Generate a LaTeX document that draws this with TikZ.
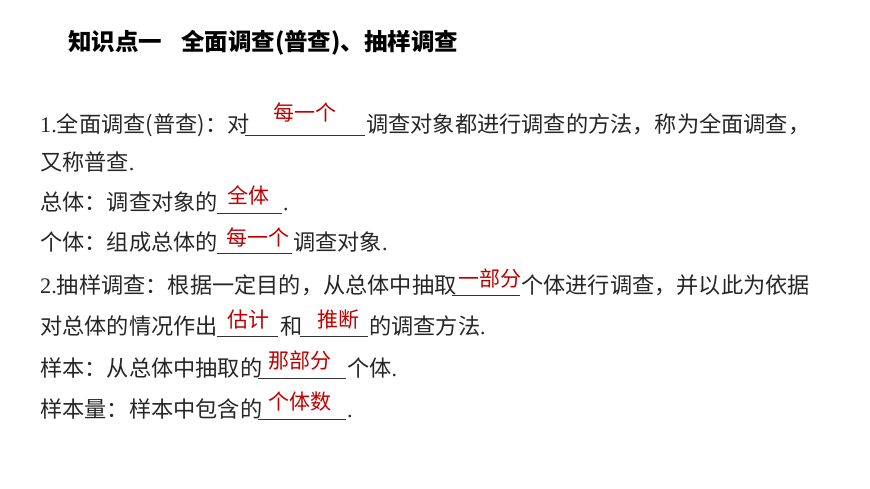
\documentclass[tikz,border=0pt]{standalone}
\usepackage{fontspec}
\setmainfont{Noto Sans CJK SC}
\newfontfamily\latinf{Liberation Serif}
\begin{document}
\begin{tikzpicture}[x=1pt,y=-1pt,
  txt/.style={anchor=base west,inner sep=0pt,font=\fontsize{22.2}{24}\selectfont,text=black!85},
  ans/.style={anchor=base,inner sep=0pt,font=\fontsize{21}{24}\selectfont,text={rgb,255:red,192;green,0;blue,0}},
  blank/.style={line width=0.8pt,black!80}]
\useasboundingbox (0,0) rectangle (870,489);
\node[anchor=base west,inner sep=0pt,font=\fontsize{23.5}{26}\bfseries\selectfont] (t) at (68,51) {知识点一\hspace{0.8em}全面调查(普查)、抽样调查};
% line 1
\node[txt] (l1a) at (40,133) {{\latinf 1.}全面调查(普查)：对};
\draw[blank] (245,135) -- (365,135);
\node[ans] (a1) at (305,121) {每一个};
\node[txt] (l1b) at (366,133) {调查对象都进行调查的方法，称为全面调查，};
\node[txt] (l2) at (40,171) {又称普查{\latinf .}};
% line 3
\node[txt] (l3) at (40,211) {总体：调查对象的};
\draw[blank] (217,213) -- (282,213);
\node[ans] (a3) at (248,204) {全体};
\node[txt] (l3b) at (283,211) {{\latinf .}};
% line 4
\node[txt] (l4) at (40,251) {个体：组成总体的};
\draw[blank] (217,253) -- (292,253);
\node[ans] (a4) at (258,245) {每一个};
\node[txt] (l4b) at (293,251) {调查对象{\latinf .}};
% line 5
\node[txt] (l5) at (40,293) {{\latinf 2.}抽样调查：根据一定目的，从总体中抽取};
\draw[blank] (452,295) -- (520,295);
\node[ans] (a5) at (490,286) {一部分};
\node[txt] (l5b) at (521,293) {个体进行调查，并以此为依据};
% line 6
\node[txt] (l6) at (40,334) {对总体的情况作出};
\draw[blank] (217,336) -- (278,336);
\node[ans] (a6) at (248,327) {估计};
\node[txt] (l6b) at (280,334) {和};
\draw[blank] (300,336) -- (368,336);
\node[ans] (a6b) at (338,327) {推断};
\node[txt] (l6c) at (369,334) {的调查方法{\latinf .}};
% line 7
\node[txt] (l7) at (40,376) {样本：从总体中抽取的};
\draw[blank] (258,378) -- (346,378);
\node[ans] (a7) at (300,368) {那部分};
\node[txt] (l7b) at (347,376) {个体{\latinf .}};
% line 8
\node[txt] (l8) at (40,417) {样本量：样本中包含的};
\draw[blank] (258,419) -- (346,419);
\node[ans] (a8) at (300,409) {个体数};
\node[txt] (l8b) at (347,417) {{\latinf .}};
\end{tikzpicture}
\end{document}
